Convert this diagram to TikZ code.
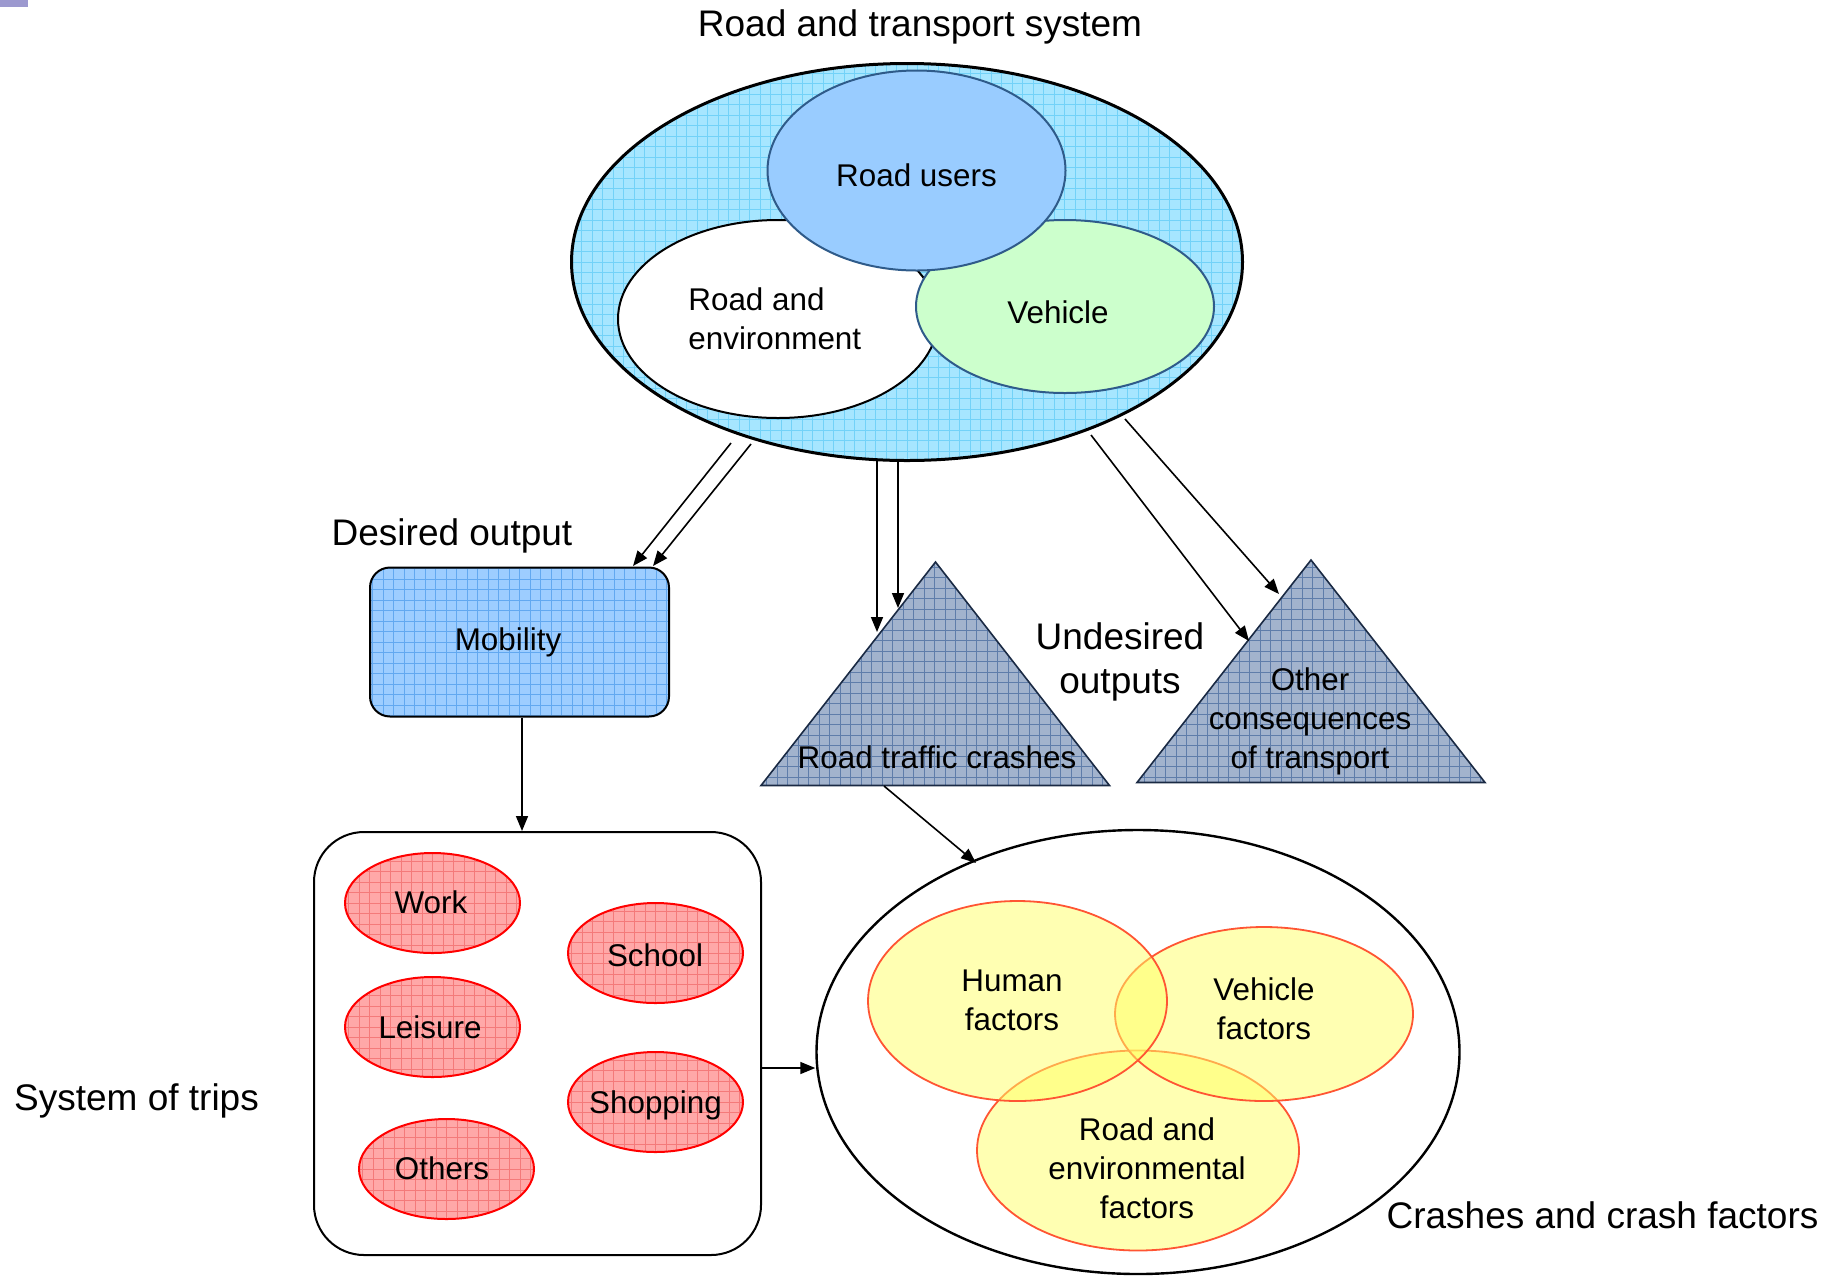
\documentclass[tikz,border=0pt]{standalone}
\usepackage{fontspec}
\setmainfont{Liberation Sans}
\usetikzlibrary{shapes.geometric,arrows.meta}
\definecolor{topmark}{HTML}{9C99CF}
\definecolor{bigfill}{HTML}{A6E6FF}
\definecolor{biggrid}{HTML}{72D2F8}
\definecolor{ufill}{HTML}{99CCFF}
\definecolor{uborder}{HTML}{2F5B8A}
\definecolor{vfill}{HTML}{CCFFCC}
\definecolor{mobfill}{HTML}{9DCDFF}
\definecolor{mobgrid}{HTML}{62A8F0}
\definecolor{trifill}{HTML}{A2B3CD}
\definecolor{trigrid}{HTML}{5F7DAA}
\definecolor{triborder}{HTML}{1A2A44}
\definecolor{redfill}{HTML}{FFA8A8}
\definecolor{redgrid}{HTML}{F47A7A}
\definecolor{redborder}{HTML}{FF0000}
\definecolor{yelfill}{HTML}{FFFF66}
\definecolor{yelborder}{HTML}{FF5533}
\begin{document}
\begin{tikzpicture}[x=0.5pt,y=-0.5pt,
  gridded/.style={path picture={\draw[#1,line width=0.3pt,step=5.25pt]
     (path picture bounding box.south west) grid (path picture bounding box.north east);}},
  ell/.style={ellipse, inner sep=0pt},
  txt/.style={font=\fontsize{15.7}{19.5}\selectfont, align=center, inner sep=0pt},
  lbl/.style={font=\fontsize{18.5}{22}\selectfont, align=center, inner sep=0pt},
  arr/.style={-{Triangle[length=7.5pt,width=6pt]}, line width=0.8pt},
  redell/.style={ell, draw=redborder, line width=1pt, fill=redfill, gridded=redgrid,
     minimum width=87.5pt, minimum height=50pt},
  yelell/.style={ell, draw=yelborder, line width=0.9pt, fill=yelfill, fill opacity=0.5,
     draw opacity=1},
  tri/.style={draw=triborder, line width=0.8pt, fill=trifill, gridded=trigrid}
]
\useasboundingbox (0,0) rectangle (1845,1275);
\fill[topmark] (0,0) rectangle (28,7);

% Road and transport system
\node[lbl] (title) at (920,27) {Road and transport system};
\node[ell, draw=black, line width=1.5pt, fill=bigfill, gridded=biggrid,
      minimum width=335.5pt, minimum height=198.5pt] (sys) at (907,262) {};
\node[ell, draw=black, line width=1pt, fill=white,
      minimum width=160pt, minimum height=99pt] (renv) at (778,319) {};
\node[ell, draw=uborder, line width=1pt, fill=vfill,
      minimum width=149pt, minimum height=86.5pt] (veh) at (1065,306.5) {};
\node[ell, draw=uborder, line width=1pt, fill=ufill,
      minimum width=149pt, minimum height=100pt] (users) at (916.5,170.5) {};
\node[txt] (userst) at (916.5,175) {Road users};
\node[txt] (veht) at (1058,312) {Vehicle};
\node[txt, align=left, anchor=west] (renvt) at (688,319) {Road and\\environment};

% Desired output
\node[lbl] (desired) at (452,535.5) {Desired output};
\node[draw=black, line width=1pt, rounded corners=10pt, fill=mobfill, gridded=mobgrid,
      minimum width=149.5pt, minimum height=74.5pt, inner sep=0pt] (mob) at (519.5,642) {};
\node[txt] (mobt) at (508,642.5) {Mobility};

% Undesired outputs
\coordinate (t1a) at (935.5,562);
\coordinate (t1l) at (761,785.5);
\coordinate (t1r) at (1109.5,785.5);
\path[tri] (t1a) -- (t1r) -- (t1l) -- cycle;
\node[txt] (crasht) at (937,757) {Road traffic crashes};
\coordinate (t2a) at (1311,560);
\coordinate (t2l) at (1137,782.5);
\coordinate (t2r) at (1485,782.5);
\path[tri] (t2a) -- (t2r) -- (t2l) -- cycle;
\node[txt] (othert) at (1310,721) {Other\\consequences\\of transport};
\node[lbl] (undes) at (1120,661.5) {Undesired\\outputs};

% System of trips
\node[draw=black, line width=1pt, rounded corners=25pt, minimum width=223.5pt,
      minimum height=211.5pt, inner sep=0pt] (trips) at (537.5,1043.5) {};
\node[redell] (work) at (432.5,903) {};
\node[redell] (school) at (655.5,953) {};
\node[redell] (leisure) at (432.5,1027) {};
\node[redell] (shop) at (655.5,1102) {};
\node[redell] (others) at (446.5,1169) {};
\node[txt] (workt) at (431,902) {Work};
\node[txt] (schoolt) at (655,955) {School};
\node[txt] (leisuret) at (430,1027) {Leisure};
\node[txt] (shopt) at (655.5,1105) {Shopping};
\node[txt] (otherst) at (442,1168) {Others};
\node[lbl] (tripst) at (136.5,1100.5) {System of trips};

% Crashes and crash factors
\node[ell, draw=black, line width=1.2pt, fill=white,
      minimum width=321.5pt, minimum height=222pt] (crash) at (1138,1052) {};
\node[yelell, minimum width=161pt, minimum height=100pt] (refac) at (1138,1150.5) {};
\node[yelell, minimum width=149pt, minimum height=87pt] (vfac) at (1264,1014) {};
\node[yelell, minimum width=149.5pt, minimum height=100pt] (hfac) at (1017.5,1001) {};
\node[txt] (hfact) at (1012,1000) {Human\\factors};
\node[txt] (vfact) at (1264,1009) {Vehicle\\factors};
\node[txt] (refact) at (1147,1168) {Road and\\environmental\\factors};
\node[lbl] (crasht2) at (1602.5,1215) {Crashes and crash factors};

% Connectors
\coordinate (m1s) at (731,443);
\coordinate (m1e) at (633,566);
\coordinate (m2s) at (751,444);
\coordinate (m2e) at (653,566);
\draw[arr] (m1s) -- (m1e);
\draw[arr] (m2s) -- (m2e);
\coordinate (c1s) at (877,461);
\coordinate (c1e) at (877,632);
\coordinate (c2s) at (898,462);
\coordinate (c2e) at (898,608);
\draw[arr] (c1s) -- (c1e);
\draw[arr] (c2s) -- (c2e);
\coordinate (o1s) at (1091,435);
\coordinate (o1e) at (1249,641);
\coordinate (o2s) at (1125,419);
\coordinate (o2e) at (1279,594);
\draw[arr] (o1s) -- (o1e);
\draw[arr] (o2s) -- (o2e);
\draw[arr] (mob.south -| 522,0) -- (trips.north -| 522,0);
\draw[arr] (trips.east |- 0,1068) -- (crash.west |- 0,1068);
\coordinate (x1s) at (884,786);
\coordinate (x1e) at (976,863);
\draw[arr] (x1s) -- (x1e);
\end{tikzpicture}
\end{document}
